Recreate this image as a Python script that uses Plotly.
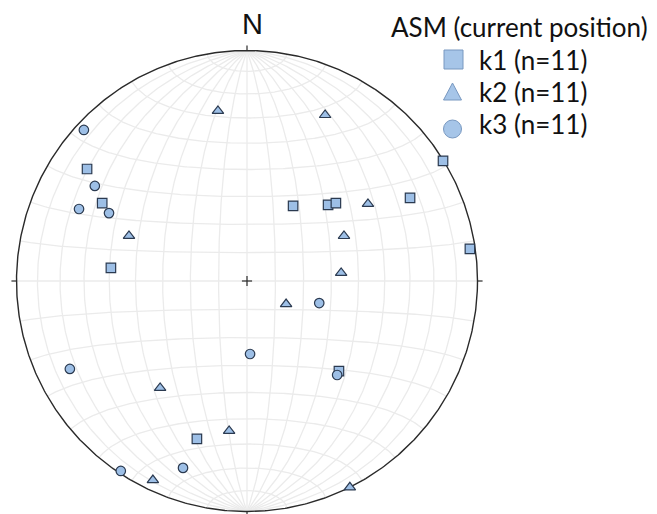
import numpy as np
import plotly.graph_objects as go

# ASM principal axes (lower hemisphere, equal-area), trend / plunge in degrees
k1_trend = [305.0, 298.3, 275.5, 31.5, 46.8, 48.8, 63.0, 58.5, 81.8, 134.4, 197.6]
k1_plunge = [16.4, 29.4, 40.4, 58.6, 50.1, 47.5, 21.7, 0.3, 2.6, 43.5, 28.9]
k2_trend = [350.3, 25.2, 290.9, 57.5, 65.1, 85.1, 120.5, 219.1, 186.8, 205.3, 153.5]
k2_plunge = [26.1, 21.5, 44.4, 37.8, 51.7, 56.3, 74.0, 40.0, 34.8, 5.0, 0.0]
k3_trend = [312.8, 302.0, 293.2, 296.2, 107.0, 177.6, 243.6, 136.2, 213.6, 198.9]
k3_plunge = [4.0, 23.2, 21.8, 33.7, 63.2, 64.1, 15.3, 42.9, 1.2, 15.4]

series_names = ["k1 (n=11)", "k2 (n=11)", "k3 (n=11)"]
legend_title = "ASM (current position)"
north_label = "N"


def proj(trend, plunge):
    t = np.radians(np.asarray(trend, dtype=float))
    p = np.radians(np.asarray(plunge, dtype=float))
    e = np.cos(p) * np.sin(t)
    n = np.cos(p) * np.cos(t)
    d = np.sin(p)
    s = np.sqrt(1 + d)
    return e / s, n / s


def vec_proj(e, n, d):
    s = np.sqrt(1 + d)
    return e / s, n / s


gx, gy = [], []
tt = np.linspace(0, np.pi, 241)
# great circles striking N-S
for dip in range(10, 90, 10):
    dr = np.radians(dip)
    for sgn in (1, -1):
        n = np.cos(tt)
        e = sgn * np.sin(tt) * np.cos(dr)
        d = np.sin(tt) * np.sin(dr)
        x, y = vec_proj(e, n, d)
        gx += list(x) + [None]
        gy += list(y) + [None]
gx += [0, 0, None]
gy += [-1, 1, None]
# small circles about N-S axis
for a in range(10, 90, 10):
    ar = np.radians(a)
    for sgn in (1, -1):
        n = sgn * np.cos(ar) * np.ones_like(tt)
        e = np.sin(ar) * np.cos(tt)
        d = np.sin(ar) * np.sin(tt)
        x, y = vec_proj(e, n, d)
        gx += list(x) + [None]
        gy += list(y) + [None]
gx += [-1, 1, None]
gy += [0, 0, None]

fig = go.Figure()
fig.add_trace(go.Scatter(x=gx, y=gy, mode="lines",
                         line=dict(color="#ebebeb", width=1.3),
                         hoverinfo="skip", showlegend=False))

th = np.linspace(0, 2 * np.pi, 721)
fig.add_trace(go.Scatter(x=np.cos(th), y=np.sin(th), mode="lines",
                         line=dict(color="#2a2a2a", width=1.4),
                         hoverinfo="skip", showlegend=False))

tk = 0.022
fig.add_trace(go.Scatter(
    x=[0, 0, None, 0, 0, None, 1, 1 + tk, None, -1, -1 - tk, None, -tk, tk, None, 0, 0],
    y=[1, 1 + tk, None, -1, -1 - tk, None, 0, 0, None, 0, 0, None, 0, 0, None, -tk, tk],
    mode="lines", line=dict(color="#2a2a2a", width=1.2),
    hoverinfo="skip", showlegend=False))

fill = "#9dbfe6"
edge = "#2b3a50"
symbols = ["square", "triangle-up", "circle"]
sizes = [9.5, 10, 9.5]
data = [(k1_trend, k1_plunge), (k2_trend, k2_plunge), (k3_trend, k3_plunge)]
for (tr, pl), sym, sz, name in zip(data, symbols, sizes, series_names):
    x, y = proj(tr, pl)
    fig.add_trace(go.Scatter(x=x, y=y, mode="markers", name=name,
                             marker=dict(symbol=sym, size=sz, color=fill,
                                         line=dict(color=edge, width=1.2)),
                             showlegend=False))

# page body has an 8 px margin; lay out in figure pixels
W, H = 649, 506
cx, cy, R = 239, 273, 230.5


def px(x):
    return x / W


def py(y):
    return 1 - y / H


lg_fill = "#a6c5e8"
lg_edge = "#7898c0"
shapes = [
    dict(type="rect", xref="paper", yref="paper",
         x0=px(436), x1=px(455), y0=py(42), y1=py(61),
         fillcolor=lg_fill, line=dict(color=lg_edge, width=1)),
    dict(type="path", xref="paper", yref="paper",
         path=f"M {px(444.5)} {py(75)} L {px(453.5)} {py(92)} L {px(435.5)} {py(92)} Z",
         fillcolor=lg_fill, line=dict(color=lg_edge, width=1)),
    dict(type="circle", xref="paper", yref="paper",
         x0=px(435.5), x1=px(453.5), y0=py(112), y1=py(130),
         fillcolor=lg_fill, line=dict(color=lg_edge, width=1)),
]

annotations = [
    dict(x=(252 - 8 - cx) / R, y=(cy - 16) / R, xref="x", yref="y", text=north_label,
         showarrow=False, font=dict(family="Liberation Sans", size=29, color="#111111")),
    dict(x=px(511.5), y=py(19), xref="paper", yref="paper", text=legend_title,
         showarrow=False, xanchor="center", yanchor="middle",
         font=dict(family="Lato", size=26, color="#111111")),
]
for name, yc in zip(series_names, [52, 84, 116]):
    annotations.append(dict(x=px(469), y=py(yc), xref="paper", yref="paper", text=name,
                            showarrow=False, xanchor="left", yanchor="middle",
                            font=dict(family="Lato", size=26, color="#111111")))

fig.update_layout(
    width=W, height=H,
    margin=dict(l=0, r=0, t=0, b=0),
    paper_bgcolor="white", plot_bgcolor="white",
    xaxis=dict(range=[-cx / R, (W - cx) / R], visible=False, fixedrange=True),
    yaxis=dict(range=[-(H - cy) / R, cy / R], visible=False, fixedrange=True),
    showlegend=False,
    shapes=shapes,
    annotations=annotations,
)

fig.write_html("out.html")
